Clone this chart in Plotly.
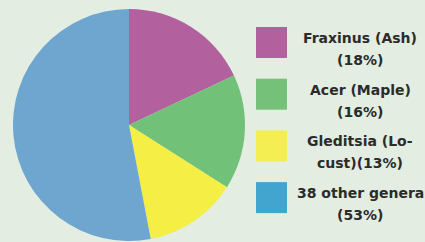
import plotly.graph_objects as go

# Data
genera = ["Fraxinus (Ash)", "Acer (Maple)", "Gleditsia (Locust)", "38 other genera"]
shares = [18, 16, 13, 53]
legend_line1 = ["Fraxinus (Ash)", "Acer (Maple)", "Gleditsia (Lo-", "38 other genera"]
legend_line2 = ["(18%)", "(16%)", "cust)(13%)", "(53%)"]
pie_colors = ["#b3619e", "#72c178", "#f5ee45", "#6fa6cf"]
legend_colors = ["#b3619e", "#76c17a", "#f5ee52", "#42a5d0"]

W, H = 425, 242
BG = "#e3ede2"

fig = go.Figure()
fig.add_trace(go.Pie(
    labels=genera, values=shares, sort=False, direction="clockwise", rotation=0,
    marker=dict(colors=pie_colors, line=dict(width=0)),
    textinfo="none", showlegend=False, hoverinfo="label+percent",
    domain=dict(x=[13 / W, 245 / W], y=[1 - 241 / H, 1 - 9 / H]),
))

shapes = []
annotations = []
for i in range(len(genera)):
    top = 27 + 51.7 * i
    shapes.append(dict(type="rect", xref="paper", yref="paper",
                       x0=256 / W, x1=287 / W, y0=1 - (top + 31) / H, y1=1 - top / H,
                       fillcolor=legend_colors[i], line=dict(width=0)))
    for j, (txt, dy) in enumerate([(legend_line1[i], 11), (legend_line2[i], 33)]):
        annotations.append(dict(xref="paper", yref="paper", x=360 / W, y=1 - (top + dy) / H,
                                xanchor="center", yanchor="middle", text=f"<b>{txt}</b>",
                                showarrow=False,
                                font=dict(family="DejaVu Sans", size=14, color="#2b2b2b")))

fig.update_layout(
    width=W, height=H, margin=dict(l=0, r=0, t=0, b=0),
    paper_bgcolor=BG, plot_bgcolor=BG,
    shapes=shapes, annotations=annotations,
)

fig.write_html("out.html", config={"displayModeBar": False},
               post_script="document.body.style.margin='0';document.body.style.background='#e3ede2';")
